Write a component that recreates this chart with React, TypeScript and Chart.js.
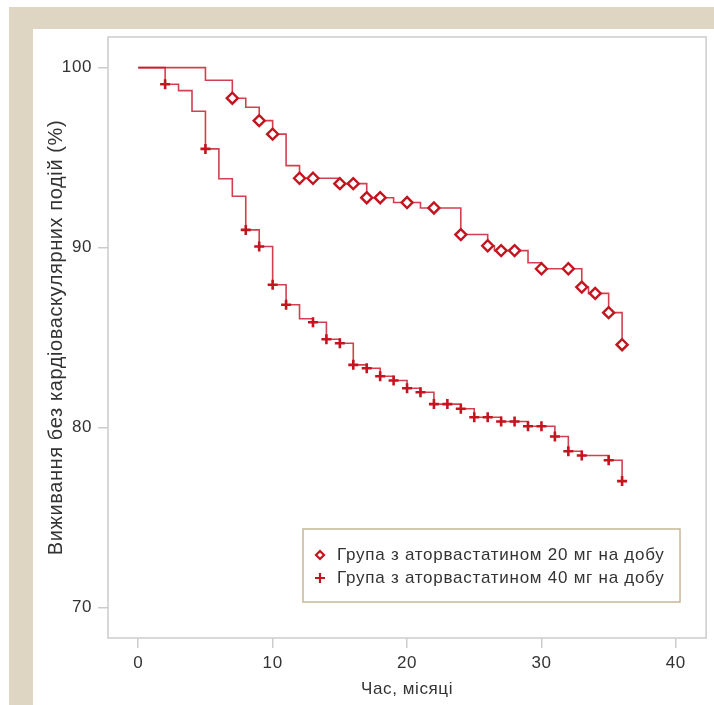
import React, { useEffect, useRef } from 'react';
import { Chart, registerables } from 'chart.js';

Chart.register(...registerables);

// ---- data ----
const xTicks = [0, 10, 20, 30, 40];
const yTicks = [70, 80, 90, 100];

const xTitle = 'Час, місяці';
const yTitle = 'Виживання без кардіоваскулярних подій (%)';

const label20 = 'Група з аторвастатином 20 мг на добу';
const label40 = 'Група з аторвастатином 40 мг на добу';

const months20 = [0, 5, 7, 8, 9, 10, 11, 12, 13, 15, 16, 17, 18, 19, 20, 21, 22, 24, 26, 26.5, 27, 28, 29, 30, 32, 33, 33.5, 34, 35, 36];
const surv20 = [100, 99.3, 98.3, 97.8, 97.05, 96.3, 94.55, 93.85, 93.85, 93.55, 93.55, 92.77, 92.77, 92.5, 92.5, 92.2, 92.2, 90.72, 90.1, 89.83, 89.83, 89.83, 89.15, 88.82, 88.82, 87.8, 87.45, 87.45, 86.38, 84.6];
const marks20 = [0, 0, 1, 0, 1, 1, 0, 1, 1, 1, 1, 1, 1, 0, 1, 0, 1, 1, 1, 0, 1, 1, 0, 1, 1, 1, 0, 1, 1, 1];

const months40 = [0, 2, 3, 4, 5, 6, 7, 8, 9, 10, 11, 12, 13, 14, 15, 16, 17, 18, 19, 20, 21, 22, 23, 24, 25, 26, 27, 28, 29, 30, 31, 32, 33, 35, 36];
const surv40 = [100, 99.07, 98.72, 97.57, 95.48, 93.82, 92.85, 90.98, 90.06, 87.93, 86.82, 86.04, 85.85, 84.9, 84.68, 83.48, 83.29, 82.85, 82.61, 82.18, 81.96, 81.3, 81.3, 81.04, 80.57, 80.57, 80.33, 80.33, 80.07, 80.07, 79.5, 78.68, 78.44, 78.18, 77.02];
const marks40 = [0, 1, 0, 0, 1, 0, 0, 1, 1, 1, 1, 0, 1, 1, 1, 1, 1, 1, 1, 1, 1, 1, 1, 1, 1, 1, 1, 1, 1, 1, 1, 1, 1, 1, 1];

// ---- styles ----
const FONT = "'Liberation Sans', Arial, sans-serif";
const TEXT = '#333333';
const AXIS = '#cccccc';
const RED_LINE = 'rgba(200, 22, 40, 0.82)';
const RED_MARK = '#c4141f';
const BEIGE = '#ded6c3';
const SPACING = '0.6px';

const bgPlugin = {
  id: 'bg',
  beforeDraw(chart: any) {
    const { ctx, width, height } = chart;
    ctx.fillStyle = '#ffffff';
    ctx.fillRect(0, 0, width, height);
    ctx.fillStyle = BEIGE;
    ctx.fillRect(9, 7, width - 9, 22);
    ctx.fillRect(9, 7, 24, height - 7);
    try {
      ctx.letterSpacing = SPACING;
    } catch (e) {}
  },
  beforeDatasetsDraw(chart: any) {
    const { ctx, chartArea: a } = chart;
    ctx.save();
    ctx.strokeStyle = AXIS;
    ctx.lineWidth = 1.5;
    ctx.strokeRect(a.left, a.top, a.right - a.left, a.bottom - a.top);
    ctx.restore();
  },
};

const legendPlugin = {
  id: 'boxLegend',
  afterDraw(chart: any) {
    const { ctx, chartArea: a } = chart;
    const x0 = a.left + 195;
    const y0 = a.top + 492;
    const w = 377;
    const h = 73;
    ctx.save();
    ctx.fillStyle = '#ffffff';
    ctx.fillRect(x0, y0, w, h);
    ctx.strokeStyle = '#c8b796';
    ctx.lineWidth = 1.5;
    ctx.strokeRect(x0, y0, w, h);
    const ds = chart.data.datasets;
    const rows = [y0 + 26, y0 + 49];
    ds.forEach((d: any, i: number) => {
      const cy = rows[i];
      const cx = x0 + 17;
      ctx.strokeStyle = RED_MARK;
      ctx.lineWidth = 2.2;
      ctx.beginPath();
      if (d.pointStyle === 'rectRot') {
        const r = 4;
        ctx.moveTo(cx, cy - r);
        ctx.lineTo(cx + r, cy);
        ctx.lineTo(cx, cy + r);
        ctx.lineTo(cx - r, cy);
        ctx.closePath();
      } else {
        const r = 5;
        ctx.moveTo(cx - r, cy);
        ctx.lineTo(cx + r, cy);
        ctx.moveTo(cx, cy - r);
        ctx.lineTo(cx, cy + r);
      }
      ctx.stroke();
      ctx.fillStyle = TEXT;
      ctx.font = `17px ${FONT}`;
      try {
        ctx.letterSpacing = '0.75px';
      } catch (e) {}
      ctx.textBaseline = 'middle';
      ctx.textAlign = 'left';
      ctx.fillText(d.label, x0 + 34, cy);
    });
    ctx.restore();
  },
};

export default function App() {
  const ref = useRef<HTMLCanvasElement>(null);
  useEffect(() => {
    const chart = new Chart(ref.current as HTMLCanvasElement, {
      type: 'line',
      data: {
        datasets: [
          {
            label: label20,
            data: months20.map((m, i) => ({ x: m, y: surv20[i] })),
            stepped: 'before',
            borderColor: RED_LINE,
            borderWidth: 1.6,
            fill: false,
            pointStyle: 'rectRot',
            pointRadius: (c: any) => (marks20[c.dataIndex] ? 5.5 : 0),
            pointBorderWidth: 2.4,
            pointBorderColor: RED_MARK,
            pointBackgroundColor: '#ffffff',
          },
          {
            label: label40,
            data: months40.map((m, i) => ({ x: m, y: surv40[i] })),
            stepped: 'before',
            borderColor: RED_LINE,
            borderWidth: 1.6,
            fill: false,
            pointStyle: 'cross',
            pointRadius: (c: any) => (marks40[c.dataIndex] ? 5 : 0),
            pointBorderWidth: 2.6,
            pointBorderColor: RED_MARK,
            pointBackgroundColor: RED_MARK,
          },
        ],
      } as any,
      options: {
        responsive: false,
        animation: false,
        devicePixelRatio: 1,
        layout: { padding: { top: 37, right: 7, left: 0, bottom: 0 } },
        plugins: { legend: { display: false }, tooltip: { enabled: false } },
        scales: {
          x: {
            type: 'linear',
            min: -2.25,
            max: 42.25,
            afterBuildTicks: (s: any) => {
              s.ticks = xTicks.map((v) => ({ value: v }));
            },
            afterFit: (s: any) => {
              s.height = 67;
            },
            grid: { drawOnChartArea: false, drawTicks: true, tickLength: 10, color: AXIS, lineWidth: 1.5 },
            border: { display: false },
            ticks: { padding: 5, color: TEXT, font: { family: FONT, size: 17 }, maxRotation: 0 },
            title: {
              display: true,
              text: xTitle,
              color: TEXT,
              font: { family: FONT, size: 17 },
              padding: { top: 0, bottom: 5 },
            },
          },
          y: {
            type: 'linear',
            min: 68.3,
            max: 101.7,
            afterBuildTicks: (s: any) => {
              s.ticks = yTicks.map((v) => ({ value: v }));
            },
            afterFit: (s: any) => {
              s.width = 108;
            },
            grid: { drawOnChartArea: false, drawTicks: true, tickLength: 10, color: AXIS, lineWidth: 1.5 },
            border: { display: false },
            ticks: { padding: 6, color: TEXT, font: { family: FONT, size: 17 } },
            title: {
              display: true,
              text: yTitle,
              color: TEXT,
              font: { family: FONT, size: 20 },
              padding: { top: 44, bottom: 0 },
            },
          },
        },
      } as any,
      plugins: [bgPlugin, legendPlugin],
    });
    return () => chart.destroy();
  }, []);
  return (
    <canvas
      ref={ref}
      width={714}
      height={705}
      style={{ position: 'fixed', left: 0, top: 0, width: 714, height: 705 }}
    />
  );
}
